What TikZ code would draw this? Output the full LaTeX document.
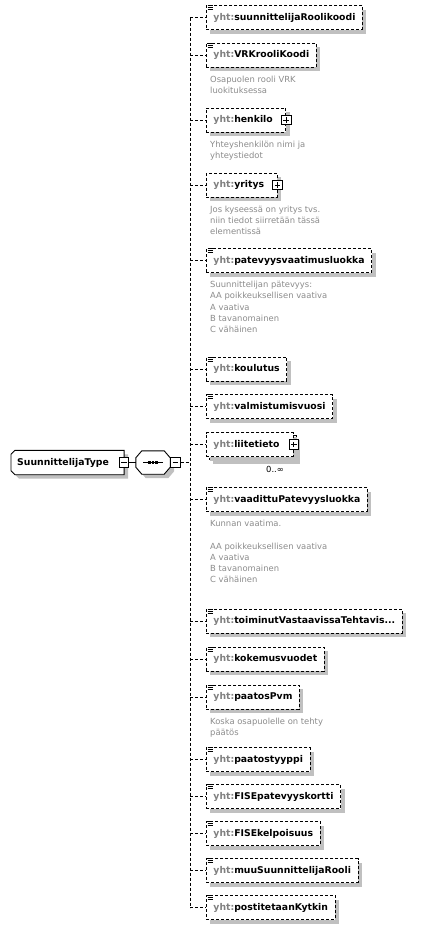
\documentclass[tikz,border=0pt]{standalone}
\usepackage{fontspec}
\setmainfont{DejaVu Sans}
\usetikzlibrary{backgrounds,shadows}
\definecolor{yhtgray}{RGB}{128,128,128}
\definecolor{descgray}{RGB}{140,140,140}
\definecolor{shadowgray}{RGB}{192,192,192}
\newcommand{\elemfont}{\fontsize{9.3}{11}\selectfont\bfseries}
\newcommand{\descfont}{\fontsize{8.4}{11.1}\selectfont}
\newcommand{\yht}[1]{\textcolor{yhtgray}{yht:}#1}
\tikzset{
  shadowed/.style={general shadow={fill=shadowgray,shadow xshift=4pt,shadow yshift=-4pt}},
  dsh/.style={dash pattern=on 3pt off 2pt,line width=0.9pt},
  elem/.style={draw,dsh,fill=white,shadowed,minimum height=24pt,inner xsep=7pt,inner ysep=0pt,anchor=west,font=\elemfont},
  desc/.style={anchor=north west,inner sep=0pt,align=left,text=descgray,font=\descfont},
  sqbox/.style={draw,solid,line width=0.8pt,fill=white,minimum size=9.5pt,inner sep=0pt},
  plusbox/.style={sqbox,path picture={\draw[line width=0.8pt] ([xshift=2pt]path picture bounding box.west) -- ([xshift=-2pt]path picture bounding box.east) ([yshift=-2pt]path picture bounding box.north) -- ([yshift=2pt]path picture bounding box.south);}},
  minusbox/.style={sqbox,path picture={\draw[line width=0.8pt] ([xshift=2pt]path picture bounding box.west) -- ([xshift=-2pt]path picture bounding box.east);}},
  iconline/.style={solid,line width=0.8pt},
  outline/.style={line width=0.9pt,fill=white,shadowed}
}
\newcommand{\elemicon}[1]{\draw[iconline] ([xshift=1.5pt,yshift=-0.5pt]#1.north west) -- ++(5,0) ++(-5,2) -- ++(5,0) ++(-5,2) -- ++(5,0);}

\begin{document}
\begin{tikzpicture}[x=1pt,y=-1pt]
\useasboundingbox (0,0) rectangle (421,929);

\node [minimum height=24pt,inner xsep=6pt,anchor=west,font=\elemfont] (root) at (11,462.5) {SuunnittelijaType\hspace*{9pt}};
\node [minimum width=34pt,minimum height=23pt,inner sep=0pt] (seq) at (153,462.5) {};
\begin{scope}[on background layer]
\fill [white] (0,0) rectangle (421,929);
\draw [outline] ([xshift=4pt]root.north west) -- (root.north east) -- (root.south east) -- ([xshift=4pt]root.south west) -- ([yshift=4pt]root.south west) -- ([yshift=-4pt]root.north west) -- cycle;
\draw [outline] ([xshift=6pt]seq.north west) -- ([xshift=-6pt]seq.north east) -- ([yshift=-7pt]seq.north east) -- ([yshift=7pt]seq.south east) -- ([xshift=-6pt]seq.south east) -- ([xshift=6pt]seq.south west) -- ([yshift=7pt]seq.south west) -- ([yshift=-7pt]seq.north west) -- cycle;
\end{scope}
\node [minusbox] (rootm) at (root.east) {};
\draw [line width=0.9pt] ([xshift=-10pt]seq.center) -- ([xshift=10pt]seq.center);
\foreach \dx in {-3.5,0,3.5} \fill ([xshift=\dx pt]seq.center) +(-1.3,-1.3) rectangle +(1.3,1.3);
\node [minusbox,anchor=west] (seqm) at (seq.east) {};
\draw [line width=0.9pt] (rootm.east) -- (seq.west);

\coordinate (trunk) at (190,17.5); \coordinate (trunkend) at (190,907.5);
\draw [dsh] (trunk) -- (trunkend);
\draw [dsh] (seqm.east) -- (seqm.east -| trunk);

\node [elem] (e1) at (206,17.5) {\yht{suunnittelijaRoolikoodi}}; \elemicon{e1}
\node [elem] (e2) at (206,55) {\yht{VRKrooliKoodi}}; \elemicon{e2}
\node [desc] at (210,75.8) {Osapuolen rooli VRK\\luokituksessa};
\node [elem] (e3) at (206,120) {\yht{henkilo}\hspace*{6pt}}; \node [plusbox] (e3p) at (e3.east) {};
\node [desc] at (210,140.8) {Yhteyshenkilön nimi ja\\yhteystiedot};
\node [elem] (e4) at (206,185) {\yht{yritys}\hspace*{6pt}}; \node [plusbox] (e4p) at (e4.east) {};
\node [desc] at (210,205.8) {Jos kyseessä on yritys tvs.\\niin tiedot siirretään tässä\\elementissä};
\node [elem] (e5) at (206,260.5) {\yht{patevyysvaatimusluokka}}; \elemicon{e5}
\node [desc] at (210,281.3) {Suunnittelijan pätevyys:\\AA poikkeuksellisen vaativa\\A vaativa\\B tavanomainen\\C vähäinen};
\node [elem] (e6) at (206,369) {\yht{koulutus}}; \elemicon{e6}
\node [elem] (e7) at (206,406.5) {\yht{valmistumisvuosi}}; \elemicon{e7}
\node [elem] (e8b) at (209,447.5) {\phantom{\yht{liitetieto}}\hspace*{7pt}};
\node [elem] (e8) at (206,444.5) {\yht{liitetieto}\hspace*{7pt}}; \node [plusbox] (e8p) at (e8.east) {};
\node [font=\descfont,inner sep=0pt] (e8m) at (275,469) {0..∞};
\node [elem] (e9) at (206,499.5) {\yht{vaadittuPatevyysluokka}}; \elemicon{e9}
\node [desc] at (210,520.3) {Kunnan vaatima.\\[11.1pt]AA poikkeuksellisen vaativa\\A vaativa\\B tavanomainen\\C vähäinen};
\node [elem] (e10) at (206,621) {\yht{toiminutVastaavissaTehtavis...}}; \elemicon{e10}
\node [elem] (e11) at (206,659) {\yht{kokemusvuodet}}; \elemicon{e11}
\node [elem] (e12) at (206,697) {\yht{paatosPvm}}; \elemicon{e12}
\node [desc] at (210,717.8) {Koska osapuolelle on tehty\\päätös};
\node [elem] (e13) at (206,759.5) {\yht{paatostyyppi}}; \elemicon{e13}
\node [elem] (e14) at (206,796.5) {\yht{FISEpatevyyskortti}}; \elemicon{e14}
\node [elem] (e15) at (206,833.5) {\yht{FISEkelpoisuus}}; \elemicon{e15}
\node [elem] (e16) at (206,870.5) {\yht{muuSuunnittelijaRooli}}; \elemicon{e16}
\node [elem] (e17) at (206,907.5) {\yht{postitetaanKytkin}}; \elemicon{e17}

\foreach \n in {1,...,17} \draw [dsh] (trunk |- e\n.west) -- (e\n.west);

\end{tikzpicture}
\end{document}
